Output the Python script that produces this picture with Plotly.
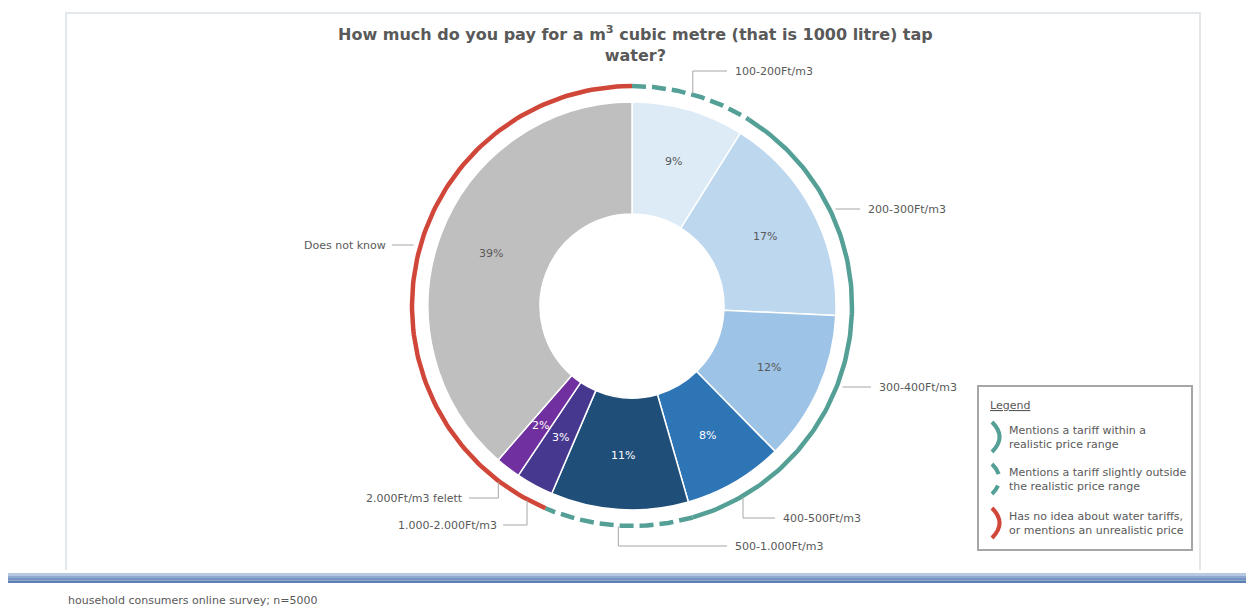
import numpy as np
import plotly.graph_objects as go

# ---- data -------------------------------------------------------------
categories = ["100-200Ft/m3", "200-300Ft/m3", "300-400Ft/m3", "400-500Ft/m3",
              "500-1.000Ft/m3", "1.000-2.000Ft/m3", "2.000Ft/m3 felett", "Does not know"]
shares = [9, 17, 12, 8, 11, 3, 2, 39]
# how realistic each answer is: "in" = realistic, "near" = slightly outside, "out" = unrealistic / no idea
assessment = ["near", "in", "in", "in", "near", "out", "out", "out"]

slice_colors = ["#DDEBF7", "#BDD7EE", "#9DC3E6", "#2E75B6",
                "#1F4E79", "#46388F", "#70309F", "#BFBFBF"]
text_colors = ["#595959", "#595959", "#595959", "#FFFFFF",
               "#FFFFFF", "#FFFFFF", "#FFFFFF", "#595959"]

legend_items = [
    ("in", "Mentions a tariff within a<br>realistic price range"),
    ("near", "Mentions a tariff slightly outside<br>the realistic price range"),
    ("out", "Has no idea about water tariffs,<br>or mentions an unrealistic price"),
]
ring_style = {"in": ("#55A096", "solid"), "near": ("#55A096", "14px,6px"), "out": ("#D0473A", "solid")}

# label placement: text anchor point, side, leader kind ("h" horizontal, "v" elbow)
label_pos = {
    "100-200Ft/m3": (733, 71, "left", "v"),
    "200-300Ft/m3": (866, 209, "left", "h"),
    "300-400Ft/m3": (877, 387, "left", "h"),
    "400-500Ft/m3": (781, 518, "left", "v"),
    "500-1.000Ft/m3": (733, 546, "left", "v"),
    "1.000-2.000Ft/m3": (499, 525, "right", "v"),
    "2.000Ft/m3 felett": (465, 498, "right", "v"),
    "Does not know": (388, 245, "right", "h"),
}

# ---- geometry (pixel space, page is 1246 x 608) -------------------------
W, H = 1246, 608
CX, CY, R = 632, 306, 204
R_IN = 92
HOLE = R_IN / R
R_RING = 220
R_TEXT = 150
GREY = "#595959"
FONT = "DejaVu Sans"

total = float(sum(shares))
cum = np.concatenate([[0], np.cumsum(shares)]) / total
mid = (cum[:-1] + cum[1:]) / 2


def ring_point(frac, r):
    a = 2 * np.pi * frac
    return CX + r * np.sin(a), CY - r * np.cos(a)


fig = go.Figure()

# donut
fig.add_trace(go.Pie(
    labels=categories, values=shares, sort=False, direction="clockwise", rotation=0,
    hole=HOLE,
    marker=dict(colors=slice_colors, line=dict(color="white", width=1.5)),
    textinfo="none",
    domain=dict(x=[(CX - R) / W, (CX + R) / W], y=[1 - (CY + R) / H, 1 - (CY - R) / H]),
    showlegend=False, hoverinfo="label+value",
))

# outer assessment ring: consecutive categories with the same assessment share one arc
groups = []
for i, a in enumerate(assessment):
    if groups and groups[-1][0] == a:
        groups[-1][2] = i + 1
    else:
        groups.append([a, i, i + 1])
for a, i0, i1 in groups:
    f = np.linspace(cum[i0], cum[i1], 120)
    xs, ys = ring_point(f, R_RING)
    color, dash = ring_style[a]
    fig.add_trace(go.Scatter(x=xs, y=ys, mode="lines", hoverinfo="skip", showlegend=False,
                             line=dict(color=color, width=4.5, dash=dash)))

shapes = []
annotations = []

# percentage labels at the middle of each slice
lx, ly = ring_point(mid, R_TEXT)
for v, x, y, c in zip(shares, lx, ly, text_colors):
    annotations.append(dict(x=x, y=y, xref="x", yref="y", text=f"{v}%", showarrow=False,
                            xanchor="center", yanchor="middle",
                            font=dict(family=FONT, size=11, color=c)))

# category labels with leader lines
for i, cat in enumerate(categories):
    tx, ty, side, kind = label_pos[cat]
    pad = 6 if side == "left" else -4
    ex = tx - pad
    if kind == "h":
        dx = np.sqrt(R_RING ** 2 - (ty - CY) ** 2)
        sx = CX + dx + 6 if side == "left" else CX - dx - 7
        path = f"M {sx:.1f} {ty} L {ex:.1f} {ty}"
    else:
        mx, _ = ring_point(mid[i], R_RING)
        sgn = 1 if ty > CY else -1
        my = CY + sgn * np.sqrt(R_RING ** 2 - (mx - CX) ** 2) + sgn * 1
        path = f"M {mx:.1f} {my:.1f} L {mx:.1f} {ty} L {ex:.1f} {ty}"
    shapes.append(dict(type="path", path=path, xref="x", yref="y",
                       line=dict(color="#A6A6A6", width=1)))
    annotations.append(dict(x=tx, y=ty, xref="x", yref="y", text=cat, showarrow=False,
                            xanchor=side, yanchor="middle",
                            font=dict(family=FONT, size=11, color=GREY)))

# title
annotations.append(dict(
    x=635, y=44, xref="x", yref="y", showarrow=False, xanchor="center", yanchor="middle",
    text="<b>How much do you pay for a m<sup>3</sup> cubic metre (that is 1000 litre) tap<br>water?</b>",
    font=dict(family=FONT, size=16, color=GREY)))

# chart frame (left, top, right edges)
shapes.append(dict(type="path", path="M 66 570 L 66 13 L 1200 13 L 1200 570",
                   xref="x", yref="y", line=dict(color="#E3E8ED", width=2)))

# legend box
shapes.append(dict(type="rect", x0=978, y0=386, x1=1192, y1=550, xref="x", yref="y",
                   line=dict(color="#A6A6A6", width=2), fillcolor="white", layer="below"))
annotations.append(dict(x=988, y=405, xref="x", yref="y", text="<u>Legend</u>", showarrow=False,
                        xanchor="left", yanchor="middle", font=dict(family=FONT, size=11, color=GREY)))
for k, (a, txt) in enumerate(legend_items):
    yc = [437, 479, 523][k]
    color, dash = ring_style[a]
    shapes.append(dict(type="path", xref="x", yref="y",
                       path=f"M 992 {yc - 15} Q 1007 {yc} 992 {yc + 15}",
                       line=dict(color=color, width=4, dash="dash" if dash != "solid" else "solid")))
    annotations.append(dict(x=1007, y=yc, xref="x", yref="y", text=txt, showarrow=False,
                            xanchor="left", yanchor="middle", align="left",
                            font=dict(family=FONT, size=11, color=GREY)))

# blue footer band
band = ["#B7C9E1", "#8FA9D0", "#7695C3", "#5E7FB3"]
for k, c in enumerate(band):
    shapes.append(dict(type="rect", x0=8, x1=1246, y0=573 + 2.5 * k, y1=575.5 + 2.5 * k,
                       xref="x", yref="y", line=dict(width=0), fillcolor=c))

annotations.append(dict(x=66, y=600, xref="x", yref="y", text="household consumers online survey; n=5000",
                        showarrow=False, xanchor="left", yanchor="middle",
                        font=dict(family=FONT, size=11, color=GREY)))

fig.update_layout(
    width=W, height=H, margin=dict(l=0, r=0, t=0, b=0),
    paper_bgcolor="white", plot_bgcolor="white",
    xaxis=dict(range=[0, W], visible=False, fixedrange=True),
    yaxis=dict(range=[H, 0], visible=False, fixedrange=True),
    shapes=shapes, annotations=annotations, showlegend=False,
)

fig.write_html("out.html")
